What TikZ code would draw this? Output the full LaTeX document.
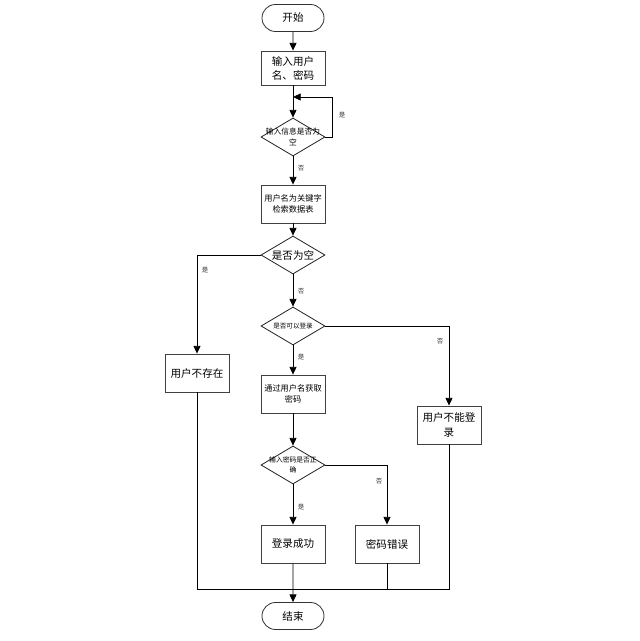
\documentclass[tikz,border=0pt]{standalone}
\usepackage{fontspec}
\setmainfont{Noto Sans CJK SC}
\usetikzlibrary{shapes.geometric,shapes.misc,arrows.meta}

\tikzset{
  proc/.style={draw=black!75,line width=0.75pt,rectangle,minimum width=19.2mm,minimum height=11.4mm,inner sep=0pt,align=center},
  term/.style={draw=black!80,line width=0.7pt,rounded rectangle,minimum width=18.6mm,minimum height=8.1mm,inner sep=0pt},
  dec/.style={draw=black!85,line width=0.7pt,diamond,minimum width=19.2mm,minimum height=11.4mm,inner sep=0pt},
  big/.style={font=\fontsize{9}{12}\selectfont},
  small/.style={font=\fontsize{7}{9.5}\selectfont},
  tiny/.style={font=\fontsize{5.6}{8}\selectfont,align=center},
  yn/.style={font=\fontsize{5.5}{6}\selectfont,text=black!80},
  arr/.style={line width=0.7pt,-{Triangle[length=2.3mm,width=2.1mm]}},
  ln/.style={line width=0.7pt}
}

\begin{document}
\begin{tikzpicture}[x=0.3mm,y=-0.3mm]
\useasboundingbox (0,0) rectangle (639,641);

% main column
\node[term,big] (start) at (293,18) {开始};
\node[proc,big,minimum height=10.2mm] (input) at (293,68) {输入用户\\名、密码};
\node[dec,label={[tiny,font=\fontsize{6.6}{9}\selectfont]center:输入信息是否为\\空}] (isnull) at (293,137) {};
\node[proc,small] (search) at (293,204) {用户名为关键字\\检索数据表};
\node[dec,label={[big]center:是否为空}] (empty) at (293,255) {};
\node[dec,label={[tiny]center:是否可以登录}] (canlog) at (293,326) {};
\node[proc,small] (getpw) at (293,394) {通过用户名获取\\密码};
\node[dec,label={[tiny,font=\fontsize{5.8}{8}\selectfont]center:输入密码是否正\\确}] (pwok) at (293,465) {};
\node[proc,big] (succ) at (293,544) {登录成功};
\node[term,big] (finish) at (293,616) {结束};

% side boxes
\node[proc,big] (nouser) at (197,373) {用户不存在};
\node[proc,big] (nolog) at (449,425) {用户不能登\\录};
\node[proc,big] (pwerr) at (387,544) {密码错误};

\coordinate (back) at (293,97);
\coordinate (join) at (293,589);

% connectors
\draw[arr] (start) -- (input);
\draw[arr] (input) -- (isnull);
\draw[arr] (isnull.east) -- ++(7,0) |- (back);
\draw[arr] (isnull) -- (search);
\draw[arr] (search) -- (empty);
\draw[arr] (empty.west) -| (nouser);
\draw[arr] (empty) -- (canlog);
\draw[arr] (canlog.east) -| (nolog);
\draw[arr] (canlog) -- (getpw);
\draw[arr] (getpw) -- (pwok);
\draw[arr] (pwok.east) -| (pwerr);
\draw[arr] (pwok) -- (succ);
\draw[arr] (succ) -- (finish);
\draw[ln] (nouser) |- (join);
\draw[ln] (nolog) |- (join);
\draw[ln] (pwerr) -- (pwerr |- join);

% branch labels
\node[yn] at (342,115) {是};
\node[yn] at (301,168) {否};
\node[yn] at (205,270) {是};
\node[yn] at (301,291) {否};
\node[yn] at (440,341) {否};
\node[yn] at (301,357) {是};
\node[yn] at (379,481) {否};
\node[yn] at (301,507) {是};

\end{tikzpicture}
\end{document}
